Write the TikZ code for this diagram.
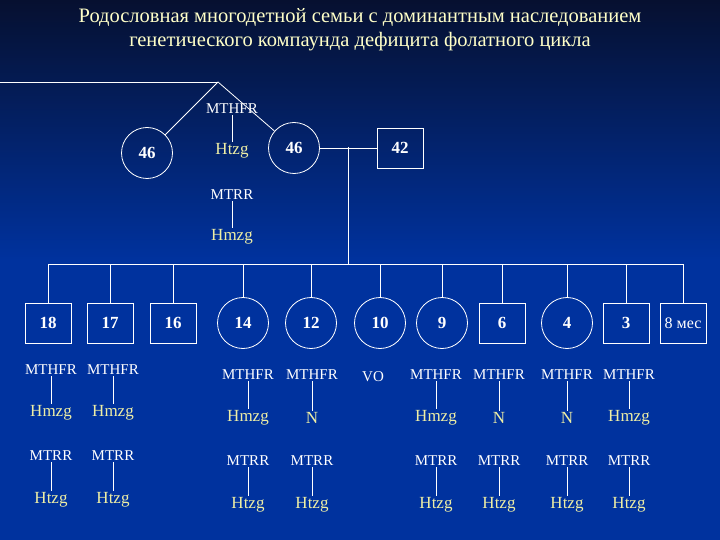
\documentclass[tikz,border=0pt]{standalone}
\usepackage{fontspec}
\setmainfont{Liberation Serif}
\usepackage{tikz}
\usetikzlibrary{positioning}

\definecolor{bgtop}{RGB}{6,16,48}
\definecolor{bgblue}{RGB}{0,50,158}
\definecolor{titlecol}{RGB}{255,255,200}
\definecolor{allelecol}{RGB}{238,238,165}

\begin{document}
\begin{tikzpicture}[
    x=1pt, y=-1pt,
    male/.style={
        draw=white,
        line width=0.8pt,
        minimum width=46pt,
        minimum height=40pt,
        text=white,
        font=\bfseries\fontsize{17}{17}\selectfont
    },
    female/.style={
        circle,
        draw=white,
        line width=0.8pt,
        minimum size=51pt,
        inner sep=0pt,
        text=white,
        font=\bfseries\fontsize{17}{17}\selectfont
    },
    gene/.style={
        text=white,
        inner sep=1pt,
        font=\fontsize{15}{15}\selectfont
    },
    allele/.style={
        text=allelecol,
        inner sep=1pt,
        font=\fontsize{17}{17}\selectfont
    },
    link/.style={
        draw=white,
        line width=0.8pt
    }
]

% background
\shade[top color=bgtop, bottom color=bgblue] (0,0) rectangle (720,260);
\fill[bgblue] (0,260) rectangle (720,540);
\useasboundingbox (0,0) rectangle (720,540);

\node[text=titlecol, align=center, font=\fontsize{20.5}{24}\selectfont] (title) at (360,30)
{Родословная многодетной семьи с доминантным наследованием\\
генетического компаунда дефицита фолатного цикла};

% parents
\coordinate (edge) at (0,82);
\coordinate (apex) at (218,82);
\node[female] (sister) at (147,153) {46};
\node[female] (mother) at (294,148) {46};
\node[male] (father) at (400,148) {42};

\draw[link] (edge) -- (apex);
\draw[link] (apex) -- (sister);
\draw[link] (apex) -- (mother);
\draw[link] (mother) -- (father);

\node[gene] (pf) at (232,109) {MTHFR};
\node[allele] (pfv) at (232,151) {Htzg};
\node[gene] (pr) at (232,195) {MTRR};
\node[allele] (prv) at (232,237) {Hmzg};
\draw[link] (pf) -- (pfv);
\draw[link] (pr) -- (prv);

% children
\coordinate (drop) at (348,147);
\coordinate (sib) at (348,264);
\node[male] (k18) at (48,323) {18};
\node[male] (k17) at (110,323) {17};
\node[male] (k16) at (173,323) {16};
\node[female] (k14) at (243,323) {14};
\node[female] (k12) at (311,323) {12};
\node[female] (k10) at (380,323) {10};
\node[female] (k9) at (442,323) {9};
\node[male] (k6) at (502,323) {6};
\node[female] (k4) at (567,323) {4};
\node[male] (k3) at (626,323) {3};
\node[male, inner sep=1pt, font=\fontsize{16}{16}\selectfont] (k8m) at (683,323) {8 мес};

\draw[link] (drop) -- (sib);
\draw[link] (k18 |- sib) -- (k8m |- sib);
\foreach \k in {k18,k17,k16,k14,k12,k10,k9,k6,k4,k3,k8m}
    \draw[link] (\k |- sib) -- (\k);

% genotypes
\node[gene] (vo) at (373,377) {VO};
\foreach \n/\x/\y/\va in {a/51/370/Hmzg, b/113/370/Hmzg, c/248/375/Hmzg, d/312/375/N,
                          e/436/375/Hmzg, f/499/375/N, g/567/375/N, h/629/375/Hmzg} {
    \node[gene] (f\n) at (\x,\y) {MTHFR};
    \node[allele] (fv\n) at (\x,\y+43) {\va};
    \node[gene] (r\n) at (\x,\y+86) {MTRR};
    \node[allele] (rv\n) at (\x,\y+130) {Htzg};
    \draw[link] (f\n) -- (fv\n);
    \draw[link] (r\n) -- (rv\n);
}

\end{tikzpicture}
\end{document}
